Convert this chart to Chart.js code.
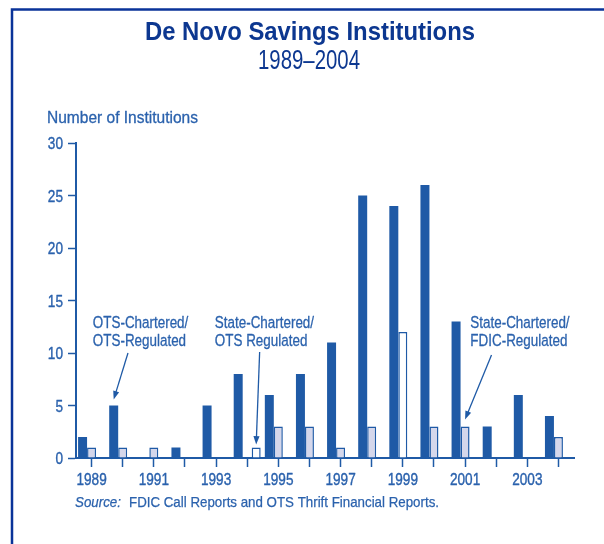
<!DOCTYPE html>
<html>
<head>
<meta charset="utf-8">
<script src="https://cdn.jsdelivr.net/npm/chart.js@4/dist/chart.umd.min.js"></script>
<style>
  html, body { margin: 0; padding: 0; background: #fff; }
  #wrap { position: relative; width: 604px; height: 544px; }
</style>
</head>
<body>
<div id="wrap"><canvas id="chart" width="604" height="544"></canvas></div>
<script>
// years on the x axis
const years = ['1989', '1990', '1991', '1992', '1993', '1994', '1995', '1996',
               '1997', '1998', '1999', '2000', '2001', '2002', '2003', '2004'];

// OTS-chartered / OTS-regulated (dark bars)
const otsChartered = [2, 5, 0, 1, 5, 8, 6, 8, 11, 25, 24, 26, 13, 3, 6, 4];
// state-chartered / FDIC-regulated (lavender bars)
const fdicRegulated = [1, 1, 1, 0, 0, 0, 3, 3, 1, 3, 0, 3, 3, 0, 0, 2];
// state-chartered / OTS regulated (white bars), drawn next to the dark bar
const stateOtsNear = [0, 0, 0, 0, 0, 0, 0, 0, 0, 0, 12, 0, 0, 0, 0, 0];
// same series, the 1994 bar sits one slot further right in the original
const stateOtsFar = [0, 0, 0, 0, 0, 1, 0, 0, 0, 0, 0, 0, 0, 0, 0, 0];

const yTicks = [0, 5, 10, 15, 20, 25, 30];

const BLUE = '#1f5aa6';
const TEXT = '#2b62ad';
const NAVY = '#0c3790';
const LAVENDER = '#d5d7eb';
const FONT = '"Liberation Sans", Arial, sans-serif';
const NARROW = 0.8; // squeeze Liberation Sans into a condensed look

// text notes with arrows, placed in axis units (category index, value)
const notes = [
  {lines: ['OTS-Chartered/', 'OTS-Regulated'], at: [0.04, 12.4],
   from: [1.17, 10], dataset: 0, index: 1, gap: 6},
  {lines: ['State-Chartered/', 'OTS Regulated'], at: [3.96, 12.4],
   from: [5.40, 10.1], dataset: 3, index: 5, gap: 3},
  {lines: ['State-Chartered/', 'FDIC-Regulated'], at: [12.17, 12.4],
   from: [12.85, 9.8], dataset: 1, index: 12, gap: 7}
];

// draw text squeezed horizontally; width given -> fit to it
// heavy > 0 adds a thin outline so the squeezed strokes are not too light
function narrowText(ctx, text, x, y, font, align, width, heavy) {
  ctx.save();
  ctx.font = font;
  const w = ctx.measureText(text).width;
  const sx = width ? width / w : NARROW;
  const real = w * sx;
  let left = x;
  if (align === 'center') left = x - real / 2;
  if (align === 'right') left = x - real;
  ctx.translate(left, y);
  ctx.scale(sx, 1);
  ctx.textAlign = 'left';
  ctx.textBaseline = 'alphabetic';
  ctx.fillText(text, 0, 0);
  if (heavy) {
    ctx.strokeStyle = ctx.fillStyle;
    ctx.lineWidth = heavy;
    ctx.lineJoin = 'round';
    ctx.strokeText(text, 0, 0);
  }
  ctx.restore();
  return real;
}

const decor = {
  id: 'decor',
  afterDraw(chart) {
    const ctx = chart.ctx;
    const xs = chart.scales.x;
    const ys = chart.scales.y;
    ctx.save();

    // frame
    ctx.strokeStyle = '#0a3399';
    ctx.lineWidth = 2.5;
    ctx.beginPath();
    ctx.moveTo(12, 544);
    ctx.lineTo(12, 9.5);
    ctx.lineTo(604, 9.5);
    ctx.stroke();

    // title
    ctx.fillStyle = NAVY;
    narrowText(ctx, 'De Novo Savings Institutions', 310, 40, 'bold 25px ' + FONT, 'center', 330);
    narrowText(ctx, '1989\u20132004', 309, 69, '28px ' + FONT, 'center', 102);

    // axis title
    ctx.fillStyle = TEXT;
    narrowText(ctx, 'Number of Institutions', 47, 123, '16.5px ' + FONT, 'left', 151, 0.3);

    // tick labels, from the scales
    const tickFont = '17px ' + FONT;
    ys.ticks.forEach(t => {
      narrowText(ctx, String(t.value), ys.right - 13, ys.getPixelForValue(t.value) + 6,
                 tickFont, 'right', 0, 0.4);
    });
    xs.ticks.forEach((t, i) => {
      if (i % 2 !== 0) return;
      narrowText(ctx, xs.getLabelForValue(t.value), xs.getPixelForTick(i), xs.top + 27,
                 tickFont, 'center', 0, 0.4);
    });

    // source
    const sw = narrowText(ctx, 'Source:', 75, 507, 'italic 15px ' + FONT, 'left', 46, 0.25);
    narrowText(ctx, 'FDIC Call Reports and OTS Thrift Financial Reports.', 75 + sw + 8, 507,
               '15px ' + FONT, 'left', 310, 0.25);

    // notes
    notes.forEach(n => {
      const tx = xs.getPixelForValue(n.at[0]);
      const ty = ys.getPixelForValue(n.at[1]);
      ctx.fillStyle = TEXT;
      n.lines.forEach((line, i) =>
        narrowText(ctx, line, tx, ty + i * 18, '16.8px ' + FONT, 'left', 0, 0.3));

      const bar = chart.getDatasetMeta(n.dataset).data[n.index];
      const x0 = xs.getPixelForValue(n.from[0]);
      const y0 = ys.getPixelForValue(n.from[1]);
      const x1 = bar.x;
      const y1 = bar.y - n.gap;
      const ang = Math.atan2(y1 - y0, x1 - x0);
      const head = 9;
      ctx.strokeStyle = BLUE;
      ctx.lineWidth = 1.3;
      ctx.beginPath();
      ctx.moveTo(x0, y0);
      ctx.lineTo(x1 - Math.cos(ang) * head * 0.8, y1 - Math.sin(ang) * head * 0.8);
      ctx.stroke();
      ctx.fillStyle = BLUE;
      ctx.beginPath();
      ctx.moveTo(x1, y1);
      ctx.lineTo(x1 - Math.cos(ang - 0.35) * head, y1 - Math.sin(ang - 0.35) * head);
      ctx.lineTo(x1 - Math.cos(ang + 0.35) * head, y1 - Math.sin(ang + 0.35) * head);
      ctx.closePath();
      ctx.fill();
    });

    ctx.restore();
  }
};

const lightBar = {
  borderColor: BLUE,
  borderWidth: 1.5,
  borderSkipped: 'bottom'
};

new Chart(document.getElementById('chart'), {
  type: 'bar',
  data: {
    labels: years,
    datasets: [
      {label: 'OTS-Chartered/OTS-Regulated', data: otsChartered,
       backgroundColor: BLUE, stack: 'a'},
      Object.assign({label: 'State-Chartered/FDIC-Regulated', data: fdicRegulated,
       backgroundColor: LAVENDER, stack: 'b'}, lightBar),
      Object.assign({label: 'State-Chartered/OTS Regulated', data: stateOtsNear,
       backgroundColor: '#ffffff', stack: 'b'}, lightBar),
      Object.assign({label: 'State-Chartered/OTS Regulated ', data: stateOtsFar,
       backgroundColor: '#ffffff', stack: 'c'}, lightBar)
    ]
  },
  options: {
    responsive: false,
    animation: false,
    events: [],
    barPercentage: 1,
    categoryPercentage: 0.867,
    layout: {padding: {left: 0, right: 30, top: 143, bottom: 0}},
    plugins: {
      legend: {display: false},
      title: {display: false},
      tooltip: {enabled: false}
    },
    scales: {
      x: {
        stacked: true,
        offset: true,
        grid: {offset: false, drawOnChartArea: false, drawTicks: true,
               tickLength: 9, tickWidth: 1.5, color: BLUE},
        border: {display: true, color: BLUE, width: 2},
        // labels are drawn condensed by the decor plugin
        ticks: {display: false, autoSkip: false},
        afterFit: s => { s.height = 86; }
      },
      y: {
        stacked: true,
        min: 0,
        max: 30,
        grid: {drawOnChartArea: false, drawTicks: true, tickLength: 8,
               tickWidth: 1.5, color: BLUE},
        border: {display: true, color: BLUE, width: 2},
        afterBuildTicks: s => { s.ticks = yTicks.map(v => ({value: v})); },
        ticks: {display: false},
        afterFit: s => { s.width = 76; }
      }
    }
  },
  plugins: [decor]
});
</script>
</body>
</html>
